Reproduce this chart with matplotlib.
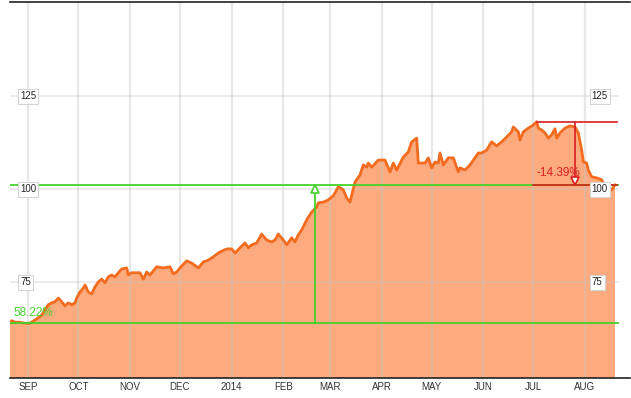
import matplotlib
matplotlib.use("Agg")
from matplotlib import pyplot as plt
import pandas as pd

# price index
dates = [
    "2013-08-21", "2013-08-22", "2013-08-24", "2013-08-27", "2013-08-29", "2013-09-01",
    "2013-09-03", "2013-09-06", "2013-09-09", "2013-09-11", "2013-09-13", "2013-09-15",
    "2013-09-17", "2013-09-19", "2013-09-21", "2013-09-23", "2013-09-25", "2013-09-27",
    "2013-09-29", "2013-09-30", "2013-10-02", "2013-10-04", "2013-10-05", "2013-10-07",
    "2013-10-09", "2013-10-11", "2013-10-13", "2013-10-15", "2013-10-17", "2013-10-19",
    "2013-10-21", "2013-10-23", "2013-10-25", "2013-10-27", "2013-10-30", "2013-10-31",
    "2013-11-02", "2013-11-04", "2013-11-07", "2013-11-09", "2013-11-11", "2013-11-13",
    "2013-11-17", "2013-11-21", "2013-11-25", "2013-11-27", "2013-11-29", "2013-12-02",
    "2013-12-05", "2013-12-08", "2013-12-12", "2013-12-15", "2013-12-18", "2013-12-21",
    "2013-12-25", "2013-12-29", "2014-01-01", "2014-01-03", "2014-01-06", "2014-01-09",
    "2014-01-11", "2014-01-13", "2014-01-16", "2014-01-19", "2014-01-22", "2014-01-25",
    "2014-01-27", "2014-01-29", "2014-02-01", "2014-02-03", "2014-02-06", "2014-02-08",
    "2014-02-10", "2014-02-12", "2014-02-15", "2014-02-18", "2014-02-20", "2014-02-21",
    "2014-02-22", "2014-02-25", "2014-02-28", "2014-03-03", "2014-03-06", "2014-03-09",
    "2014-03-11", "2014-03-13", "2014-03-16", "2014-03-19", "2014-03-21", "2014-03-23",
    "2014-03-24", "2014-03-26", "2014-03-30", "2014-04-03", "2014-04-06", "2014-04-08",
    "2014-04-10", "2014-04-14", "2014-04-17", "2014-04-19", "2014-04-22", "2014-04-23",
    "2014-04-27", "2014-04-29", "2014-05-01", "2014-05-03", "2014-05-05", "2014-05-06",
    "2014-05-08", "2014-05-11", "2014-05-14", "2014-05-17", "2014-05-18", "2014-05-21",
    "2014-05-24", "2014-05-26", "2014-05-29", "2014-05-31", "2014-06-03", "2014-06-06",
    "2014-06-09", "2014-06-12", "2014-06-15", "2014-06-18", "2014-06-19", "2014-06-22",
    "2014-06-23", "2014-06-25", "2014-06-28", "2014-07-01", "2014-07-03", "2014-07-04",
    "2014-07-06", "2014-07-08", "2014-07-10", "2014-07-12", "2014-07-14", "2014-07-15",
    "2014-07-17", "2014-07-20", "2014-07-23", "2014-07-26", "2014-07-28", "2014-07-30",
    "2014-07-31", "2014-08-02", "2014-08-03", "2014-08-05", "2014-08-08", "2014-08-11",
    "2014-08-13", "2014-08-14", "2014-08-17", "2014-08-19",
]
values = [
    64.1, 64.7, 64.3, 64.3, 64.1, 63.96,
    64.3, 65.2, 66.2, 67.6, 69.0, 69.5,
    69.8, 70.8, 69.8, 68.7, 69.5, 69.0,
    69.5, 70.8, 72.4, 73.5, 74.3, 72.4,
    71.9, 73.8, 75.1, 75.9, 74.9, 76.5,
    77.0, 76.5, 77.6, 78.6, 78.9, 77.0,
    77.6, 77.6, 77.6, 75.9, 77.8, 77.0,
    79.2, 78.9, 79.2, 77.3, 77.8, 79.4,
    80.8, 80.2, 78.9, 80.5, 81.0, 81.9,
    83.2, 84.0, 84.0, 82.9, 84.3, 85.6,
    84.3, 85.1, 85.6, 88.0, 86.4, 85.9,
    86.4, 88.0, 86.4, 85.1, 87.0, 85.9,
    87.8, 89.1, 91.8, 93.9, 94.8, 95.3,
    96.4, 96.6, 97.2, 98.3, 100.7, 99.9,
    97.7, 96.6, 102.0, 103.9, 106.6, 106.0,
    107.1, 106.0, 107.9, 107.9, 104.7, 107.1,
    105.2, 108.7, 110.1, 112.8, 113.8, 107.1,
    107.1, 108.5, 105.8, 107.4, 107.1, 109.8,
    106.6, 108.5, 108.5, 104.7, 105.8, 105.2,
    106.6, 107.9, 109.8, 109.8, 110.6, 112.8,
    111.7, 112.8, 114.1, 115.5, 116.8, 115.5,
    113.3, 115.5, 116.5, 117.3, 118.21, 116.5,
    116.0, 115.2, 113.8, 114.7, 116.3, 113.8,
    115.2, 116.5, 117.1, 116.8, 115.2, 110.6,
    107.4, 107.1, 105.2, 103.4, 103.1, 102.6,
    100.7, 99.3, 99.9, 101.2,
]

month_ticks = ["2013-09-01", "2013-10-01", "2013-11-01", "2013-12-01", "2014-01-01",
               "2014-02-01", "2014-03-01", "2014-04-01", "2014-05-01", "2014-06-01",
               "2014-07-01", "2014-08-01"]
month_labels = ["SEP", "OCT", "NOV", "DEC", "2014", "FEB", "MAR", "APR", "MAY", "JUN",
                "JUL", "AUG"]
y_ticks = [75, 100, 125]

# where the two measuring arrows were dropped
gain_arrow_date = "2014-02-20"
loss_arrow_date = "2014-07-26"

t = pd.to_datetime(dates)
s = pd.Series(values, index=t)

line_col = "#f26b1e"
fill_col = "#fcaa7e"
green = "#44d22a"
red = "#d91e1e"

fig = plt.figure(figsize=(6.31, 3.98), dpi=100)
ax = fig.add_axes([10 / 631, 20 / 398, 620 / 631, 376 / 398])

ax.fill_between(t, values, 0, color=fill_col, lw=0, zorder=1)
ax.plot(t, values, color=line_col, lw=2, zorder=3)

x_left = pd.Timestamp("2013-08-21")
x_right = pd.Timestamp("2014-08-28")
ax.set_xlim(x_left, x_right)
ax.set_ylim(49.3, 150.4)

# grid drawn over the fill, faint
line_end = pd.Timestamp("2014-08-21")
for m in month_ticks:
    ax.axvline(pd.Timestamp(m), color="#c4c4c4", alpha=0.4, lw=1.6, zorder=2)
for v in y_ticks:
    ax.plot([x_left, line_end], [v, v], color="#c4c4c4", alpha=0.4, lw=1.2, zorder=2)

# boxed value labels on both sides
for v in y_ticks:
    for xd in [pd.Timestamp("2013-08-27"), pd.Timestamp("2014-08-05")]:
        ax.text(xd, v, str(v), fontsize=7, family="Liberation Sans", color="#222222",
                ha="left", va="center", zorder=6,
                bbox=dict(boxstyle="square,pad=0.22", fc="white", ec="#d4d4d4", lw=0.8))

ax.set_xticks(pd.to_datetime(month_ticks))
ax.set_xticklabels(month_labels, fontsize=7, family="Liberation Sans", color="#333333")
ax.tick_params(axis="x", length=0, pad=3)
ax.set_yticks([])

for side in ["left", "right"]:
    ax.spines[side].set_visible(False)
ax.spines["top"].set_color("#222222")
ax.spines["bottom"].set_color("#222222")
ax.spines["top"].set_linewidth(1.2)
ax.spines["bottom"].set_linewidth(1.2)

# measuring tools: low -> last and high -> last
low = s.min()
high = s.max()
last = s.iloc[-1]
high_date = s.idxmax()
gain = (last / low - 1) * 100
loss = (last / high - 1) * 100

ax.plot([x_left, line_end], [low, low], color=green, lw=1.3, zorder=4)
ax.plot([x_left, line_end], [last, last], color=green, lw=1.3, zorder=4)
ga = pd.Timestamp(gain_arrow_date)
ax.plot([ga, ga], [low, last - 0.6], color=green, lw=1.3, zorder=4)
ax.plot([ga], [last - 1.1], marker="^", ms=6, mfc="white", mec=green, mew=1.2, zorder=5)
ax.text(pd.Timestamp("2013-08-23"), low + 1.3, "%.2f%%" % gain, color=green,
        fontsize=8.5, family="Liberation Sans", ha="left", va="bottom", zorder=5)

red_end = pd.Timestamp("2014-08-20")
ax.plot([high_date, red_end], [high, high], color=red, lw=1.2, zorder=4)
ax.plot([high_date - pd.Timedelta(days=2), red_end], [last, last], color=red, lw=1.2, zorder=4)
la = pd.Timestamp(loss_arrow_date)
ax.plot([la, la], [high, last + 0.6], color=red, lw=1.2, zorder=4)
ax.plot([la], [last + 1.1], marker="v", ms=6, mfc="white", mec=red, mew=1.2, zorder=5)
ax.text(high_date, last + 1.5, "%.2f%%" % loss, color=red,
        fontsize=8.5, family="Liberation Sans", ha="left", va="bottom", zorder=5)

fig.savefig("out.png", dpi=100)
